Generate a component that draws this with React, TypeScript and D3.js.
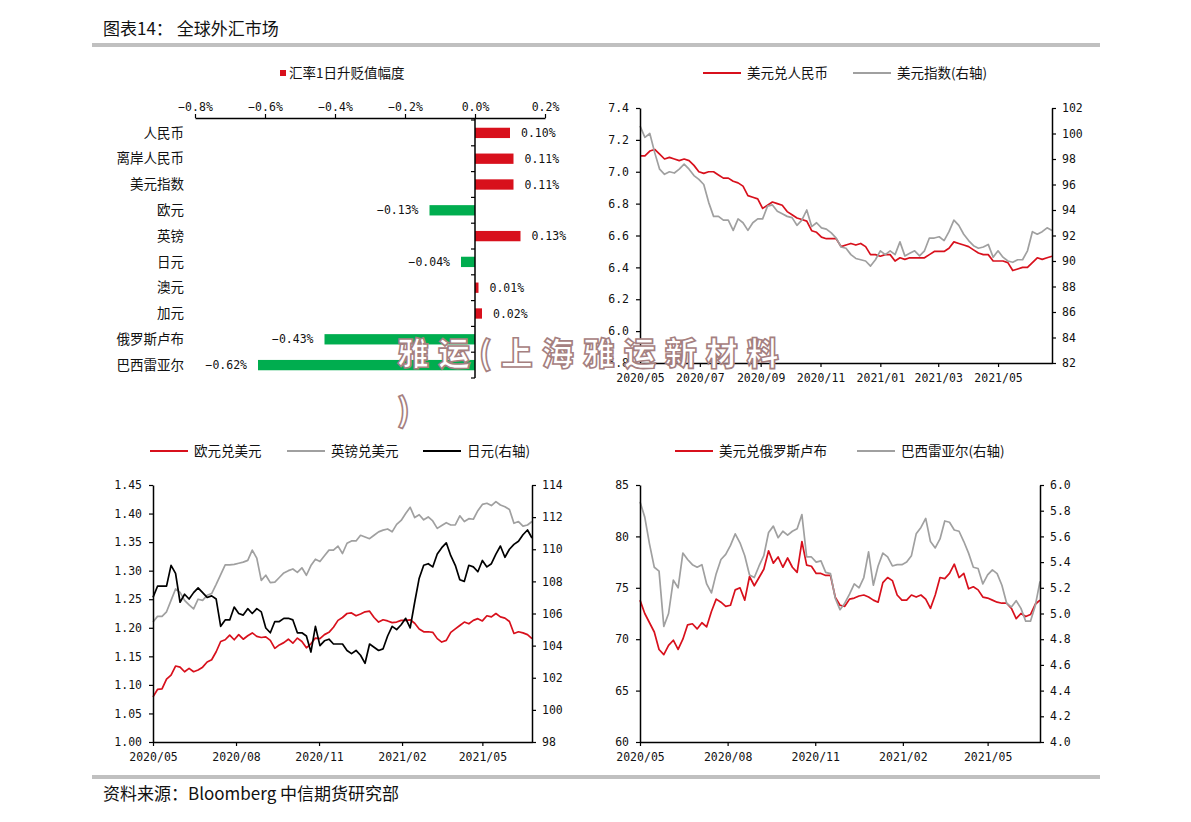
import * as d3 from "d3"
import { useLayoutEffect, useRef } from "react"

// ---- bar chart data ----
const barCategories = ["人民币", "离岸人民币", "美元指数", "欧元", "英镑", "日元", "澳元", "加元", "俄罗斯卢布", "巴西雷亚尔"]
const barValues = [0.10, 0.11, 0.11, -0.13, 0.13, -0.04, 0.01, 0.02, -0.43, -0.62]
const barTicks = [-0.8, -0.6, -0.4, -0.2, 0, 0.2]

// ---- time series (sampled every 5 days from 2020/05/01) ----
const startDate = new Date(2020, 4, 1)
const endDate = new Date(2021, 5, 25)
const dates = d3.range(85).map((i) => d3.timeDay.offset(startDate, i * 5))

const usdCny = [
  7.10, 7.10, 7.13, 7.14, 7.11, 7.08, 7.09, 7.08, 7.07, 7.08,
  7.07, 7.04, 7.00, 6.99, 7.00, 7.00, 6.98, 6.96, 6.96, 6.94,
  6.93, 6.91, 6.85, 6.84, 6.83, 6.77, 6.79, 6.81, 6.80, 6.79,
  6.75, 6.73, 6.71, 6.70, 6.69, 6.63, 6.62, 6.59, 6.58, 6.58,
  6.58, 6.53, 6.54, 6.55, 6.54, 6.55, 6.53, 6.48, 6.48, 6.47,
  6.48, 6.48, 6.44, 6.46, 6.45, 6.46, 6.46, 6.46, 6.46, 6.48,
  6.50, 6.50, 6.50, 6.52, 6.56, 6.55, 6.54, 6.53, 6.51, 6.49,
  6.48, 6.48, 6.44, 6.44, 6.44, 6.43, 6.38, 6.39, 6.40, 6.40,
  6.43, 6.46, 6.45, 6.46, 6.47,
]
const dxy = [
  100.6, 99.7, 100.0, 98.5, 97.2, 96.8, 97.0, 96.9, 97.2, 97.6,
  97.2, 96.7, 96.4, 96.0, 94.6, 93.5, 93.5, 93.2, 93.2, 92.4,
  93.3, 93.0, 92.4, 93.0, 93.3, 93.3, 94.3, 94.4, 93.9, 93.7,
  93.5, 93.4, 92.8, 93.2, 94.0, 92.7, 93.0, 92.6, 92.5, 92.2,
  91.8, 91.1, 91.0, 90.5, 90.2, 90.1, 90.0, 89.6, 90.1, 90.8,
  90.5, 90.8, 90.5, 91.5, 90.4, 90.6, 90.8, 90.4, 90.8, 91.8,
  91.8, 91.9, 91.6, 92.3, 93.2, 92.8, 92.1, 91.6, 91.2, 91.0,
  91.1, 91.3, 90.3, 90.8, 90.3, 90.0, 89.9, 90.1, 90.1, 90.8,
  92.3, 92.1, 92.3, 92.6, 92.4,
]
const eurUsd = [
  1.079, 1.092, 1.093, 1.110, 1.117, 1.133, 1.131, 1.123, 1.129, 1.123,
  1.126, 1.131, 1.140, 1.144, 1.158, 1.176, 1.179, 1.187, 1.179, 1.188,
  1.180, 1.186, 1.191, 1.185, 1.183, 1.184, 1.178, 1.164, 1.170, 1.174,
  1.180, 1.173, 1.182, 1.176, 1.165, 1.172, 1.182, 1.181, 1.188, 1.192,
  1.201, 1.213, 1.218, 1.225, 1.226, 1.221, 1.224, 1.228, 1.229, 1.218,
  1.210, 1.214, 1.212, 1.209, 1.210, 1.213, 1.213, 1.214, 1.208, 1.198,
  1.193, 1.193, 1.192, 1.181, 1.175, 1.178, 1.192, 1.198, 1.204, 1.210,
  1.207, 1.213, 1.216, 1.212, 1.221, 1.219, 1.225, 1.219, 1.217, 1.211,
  1.190, 1.193, 1.191, 1.188, 1.181,
]
const gbpUsd = [
  1.210, 1.220, 1.220, 1.228, 1.248, 1.268, 1.262, 1.248, 1.240, 1.233,
  1.250, 1.248, 1.257, 1.260, 1.276, 1.293, 1.310, 1.310, 1.311, 1.313,
  1.315, 1.318, 1.336, 1.322, 1.283, 1.292, 1.279, 1.280, 1.288, 1.296,
  1.300, 1.303, 1.297, 1.305, 1.292, 1.309, 1.320, 1.316, 1.326, 1.336,
  1.336, 1.343, 1.330, 1.348, 1.352, 1.352, 1.362, 1.359, 1.356, 1.362,
  1.368, 1.371, 1.373, 1.368, 1.381, 1.388, 1.400, 1.411, 1.393, 1.398,
  1.389, 1.394, 1.387, 1.374, 1.379, 1.384, 1.380, 1.380, 1.396, 1.386,
  1.391, 1.390, 1.405, 1.416, 1.418, 1.414, 1.421, 1.415, 1.412, 1.407,
  1.383, 1.386, 1.378, 1.380, 1.386,
]
const usdJpy = [
  107.0, 107.7, 107.7, 107.7, 109.0, 108.5, 106.7, 107.2, 106.9, 107.3,
  107.6, 107.3, 107.0, 107.1, 106.9, 105.2, 105.6, 105.6, 106.4, 106.0,
  105.9, 106.3, 106.0, 106.3, 106.1, 105.1, 104.8, 105.5, 105.5, 105.7,
  105.7, 105.6, 104.8, 104.8, 104.6, 103.6, 105.2, 104.0, 104.3, 104.4,
  104.1, 104.1, 104.1, 103.7, 103.5, 103.7, 103.4, 102.9, 104.1, 103.9,
  103.7, 103.8, 104.6, 105.2, 105.0, 105.3, 105.7, 105.1, 106.7, 108.2,
  109.0, 109.1, 108.9, 109.7, 110.1, 110.4, 109.6, 109.0, 108.1, 108.0,
  109.0, 108.9, 108.6, 109.3, 108.9, 109.1, 109.7, 110.2, 109.5, 110.0,
  110.3, 110.5, 110.9, 111.2, 110.7,
]
const usdRub = [
  73.8, 72.5, 71.6, 70.7, 69.0, 68.5, 69.4, 69.9, 69.0, 70.0,
  71.4, 71.5, 71.0, 71.6, 71.2, 72.7, 73.9, 73.6, 73.2, 73.3,
  74.8, 75.0, 73.8, 76.1, 75.2, 76.0, 76.8, 78.6, 77.4, 78.0,
  77.0, 77.9, 77.0, 76.5, 79.5, 77.2, 77.1, 76.4, 76.4, 76.2,
  76.2, 74.1, 73.3, 73.2, 73.9, 74.0, 74.2, 74.3, 74.1, 73.8,
  73.6, 75.5, 76.0, 75.7, 74.3, 73.8, 73.8, 74.3, 74.1, 74.3,
  73.9, 73.0, 74.3, 76.0, 75.9, 76.4, 77.3, 76.0, 76.4, 74.9,
  75.1, 74.8, 74.1, 74.0, 73.8, 73.6, 73.5, 73.5, 73.0, 72.0,
  72.5, 72.2, 72.4, 73.4, 73.8,
]
const brl = [
  5.87, 5.75, 5.54, 5.36, 5.33, 4.90, 5.00, 5.26, 5.20, 5.47,
  5.42, 5.38, 5.36, 5.38, 5.23, 5.16, 5.31, 5.42, 5.46, 5.53,
  5.62, 5.55, 5.45, 5.30, 5.28, 5.37, 5.45, 5.63, 5.68, 5.59,
  5.64, 5.61, 5.64, 5.66, 5.77, 5.44, 5.44, 5.40, 5.41, 5.32,
  5.31, 5.12, 5.03, 5.08, 5.15, 5.23, 5.20, 5.28, 5.48, 5.22,
  5.37, 5.47, 5.44, 5.37, 5.38, 5.38, 5.40, 5.45, 5.62, 5.67,
  5.74, 5.56, 5.51, 5.58, 5.72, 5.71, 5.65, 5.64, 5.56, 5.47,
  5.36, 5.35, 5.23, 5.30, 5.34, 5.31, 5.22, 5.08, 5.05, 5.10,
  5.04, 4.94, 4.94, 5.06, 5.25,
]

// ---- axis ticks ----
const cnyTicks = [5.8, 6.0, 6.2, 6.4, 6.6, 6.8, 7.0, 7.2, 7.4]
const dxyTicks = [82, 84, 86, 88, 90, 92, 94, 96, 98, 100, 102]
const eurTicks = [1.0, 1.05, 1.1, 1.15, 1.2, 1.25, 1.3, 1.35, 1.4, 1.45]
const jpyTicks = [98, 100, 102, 104, 106, 108, 110, 112, 114]
const rubTicks = [60, 65, 70, 75, 80, 85]
const brlTicks = [4.0, 4.2, 4.4, 4.6, 4.8, 5.0, 5.2, 5.4, 5.6, 5.8, 6.0]
const monthsEvery2 = ["2020/05", "2020/07", "2020/09", "2020/11", "2021/01", "2021/03", "2021/05"]
const monthsEvery3 = ["2020/05", "2020/08", "2020/11", "2021/02", "2021/05"]

const CN_FONT = "'Noto Sans CJK SC', 'Noto Sans', sans-serif"
const NUM_FONT = "'DejaVu Sans Mono', monospace"
const RED = "#d8101c"
const GREEN = "#00ad4f"
const GRAY = "#a0a0a0"
const BLACK = "#000"

const parseMonth = d3.timeParse("%Y/%m")
const fmtMonth = d3.timeFormat("%Y/%m")

type Sel = d3.Selection<SVGGElement, unknown, null, undefined>

function styleAxis(g: Sel) {
  g.select(".domain").attr("stroke", "#000").attr("stroke-width", 1.5)
  g.selectAll(".tick line").attr("stroke", "#000").attr("stroke-width", 1.2)
  g.selectAll(".tick text")
    .attr("fill", "#111")
    .style("font-family", NUM_FONT)
    .style("font-size", "11.5px")
}

interface LineCfg {
  left: number
  right: number
  top: number
  bottom: number
  leftDomain: [number, number]
  rightDomain: [number, number]
  leftTicks: number[]
  rightTicks: number[]
  leftFmt: (v: number) => string
  rightFmt: (v: number) => string
  months: string[]
  series: { values: number[]; axis: "left" | "right"; color: string }[]
  legend: { label: string; color: string; x: number }[]
  legendY: number
}

function drawLineChart(root: Sel, cfg: LineCfg) {
  const x = d3.scaleTime().domain([startDate, endDate]).range([cfg.left, cfg.right])
  const yL = d3.scaleLinear().domain(cfg.leftDomain).range([cfg.bottom, cfg.top])
  const yR = d3.scaleLinear().domain(cfg.rightDomain).range([cfg.bottom, cfg.top])
  const g = root.append("g")

  cfg.series.forEach((s) => {
    const y = s.axis === "left" ? yL : yR
    const line = d3
      .line<number>()
      .x((_, i) => x(dates[i]))
      .y((d) => y(d))
    g.append("path")
      .attr("d", line(s.values))
      .attr("fill", "none")
      .attr("stroke", s.color)
      .attr("stroke-width", 1.7)
      .attr("stroke-linejoin", "round")
  })

  const gl = g
    .append("g")
    .attr("transform", `translate(${cfg.left},0)`)
    .call(
      d3.axisLeft(yL).tickValues(cfg.leftTicks).tickSize(4).tickSizeOuter(0).tickPadding(7)
        .tickFormat((d) => cfg.leftFmt(d as number)),
    )
  styleAxis(gl)

  const gr = g
    .append("g")
    .attr("transform", `translate(${cfg.right},0)`)
    .call(
      d3.axisRight(yR).tickValues(cfg.rightTicks).tickSize(4).tickSizeOuter(0).tickPadding(6)
        .tickFormat((d) => cfg.rightFmt(d as number)),
    )
  styleAxis(gr)

  const gb = g
    .append("g")
    .attr("transform", `translate(0,${cfg.bottom})`)
    .call(
      d3.axisBottom(x)
        .tickValues(cfg.months.map((m) => parseMonth(m)!))
        .tickSize(4)
        .tickSizeOuter(0)
        .tickPadding(7)
        .tickFormat((d) => fmtMonth(d as Date)),
    )
  styleAxis(gb)

  cfg.legend.forEach((l) => {
    g.append("line")
      .attr("x1", l.x).attr("x2", l.x + 38)
      .attr("y1", cfg.legendY).attr("y2", cfg.legendY)
      .attr("stroke", l.color).attr("stroke-width", 2)
    g.append("text")
      .attr("x", l.x + 44).attr("y", cfg.legendY).attr("dy", "0.35em")
      .style("font-family", CN_FONT).style("font-size", "13.5px")
      .attr("fill", "#111")
      .text(l.label)
  })
}

function drawBarChart(root: Sel) {
  const g = root.append("g")
  const x = d3.scaleLinear().domain([-0.8, 0.2]).range([195, 545])
  const y = d3.scaleBand().domain(barCategories).range([120, 378]).paddingInner(0.6).paddingOuter(0.3)

  // legend
  g.append("rect").attr("x", 280).attr("y", 70).attr("width", 6).attr("height", 6).attr("fill", RED)
  g.append("text").attr("x", 289).attr("y", 73).attr("dy", "0.35em")
    .style("font-family", CN_FONT).style("font-size", "13.5px").attr("fill", "#111")
    .text("汇率1日升贬值幅度")

  g.selectAll(".bar")
    .data(barValues)
    .enter()
    .append("rect")
    .attr("x", (d) => x(Math.min(0, d)))
    .attr("y", (_, i) => y(barCategories[i])!)
    .attr("width", (d) => Math.abs(x(d) - x(0)))
    .attr("height", y.bandwidth())
    .attr("fill", (d) => (d >= 0 ? RED : GREEN))

  const pct = d3.format(".2f")
  g.selectAll(".val")
    .data(barValues)
    .enter()
    .append("text")
    .attr("x", (d) => (d >= 0 ? x(d) + 11 : x(d) - 11))
    .attr("y", (_, i) => y(barCategories[i])! + y.bandwidth() / 2)
    .attr("dy", "0.35em")
    .attr("text-anchor", (d) => (d >= 0 ? "start" : "end"))
    .style("font-family", NUM_FONT).style("font-size", "11.5px").attr("fill", "#111")
    .text((d) => pct(d) + "%")

  g.selectAll(".cat")
    .data(barCategories)
    .enter()
    .append("text")
    .attr("x", 184)
    .attr("y", (d) => y(d)! + y.bandwidth() / 2)
    .attr("dy", "0.35em")
    .attr("text-anchor", "end")
    .style("font-family", CN_FONT).style("font-size", "13.5px").attr("fill", "#111")
    .text((d) => d)

  const gt = g
    .append("g")
    .attr("transform", "translate(0,118)")
    .call(
      d3.axisTop(x).tickValues(barTicks).tickSize(4).tickSizeOuter(0).tickPadding(3)
        .tickFormat((d) => d3.format(".1f")(d as number) + "%"),
    )
  styleAxis(gt)

  // vertical axis at zero with ticks at band boundaries
  g.append("line").attr("x1", x(0)).attr("x2", x(0)).attr("y1", 118).attr("y2", 378)
    .attr("stroke", "#000").attr("stroke-width", 1.5)
  const step = y.step()
  d3.range(barCategories.length + 1).forEach((k) => {
    const yy = 120 + k * step
    g.append("line").attr("x1", x(0) - 4).attr("x2", x(0)).attr("y1", yy).attr("y2", yy)
      .attr("stroke", "#000").attr("stroke-width", 1.2)
  })
}

export default function App() {
  const ref = useRef<SVGSVGElement>(null)

  useLayoutEffect(() => {
    if (!ref.current) return
    const svg = d3.select(ref.current)
    svg.selectAll("*").remove()
    const root = svg.append("g") as unknown as Sel

    root.append("rect").attr("width", 1191).attr("height", 822).attr("fill", "#fff")

    // header & footer
    root.append("text").attr("x", 103).attr("y", 35)
      .style("font-family", CN_FONT).style("font-size", "17px").attr("fill", "#111")
      .text("图表14： 全球外汇市场")
    root.append("rect").attr("x", 92).attr("y", 43).attr("width", 1008).attr("height", 4).attr("fill", "#c0c0c0")
    root.append("rect").attr("x", 92).attr("y", 775).attr("width", 1008).attr("height", 4).attr("fill", "#c0c0c0")
    root.append("text").attr("x", 103).attr("y", 800)
      .style("font-family", CN_FONT).style("font-size", "17px").attr("fill", "#111")
      .text("资料来源：Bloomberg 中信期货研究部")

    drawBarChart(root)

    drawLineChart(root, {
      left: 640, right: 1052, top: 108, bottom: 363,
      leftDomain: [5.8, 7.4], rightDomain: [82, 102],
      leftTicks: cnyTicks, rightTicks: dxyTicks,
      leftFmt: d3.format(".1f"), rightFmt: d3.format("d"),
      months: monthsEvery2,
      series: [
        { values: usdCny, axis: "left", color: RED },
        { values: dxy, axis: "right", color: GRAY },
      ],
      legend: [
        { label: "美元兑人民币", color: RED, x: 703 },
        { label: "美元指数(右轴)", color: GRAY, x: 853 },
      ],
      legendY: 73,
    })

    drawLineChart(root, {
      left: 153, right: 532, top: 485, bottom: 742,
      leftDomain: [1.0, 1.45], rightDomain: [98, 114],
      leftTicks: eurTicks, rightTicks: jpyTicks,
      leftFmt: d3.format(".2f"), rightFmt: d3.format("d"),
      months: monthsEvery3,
      series: [
        { values: eurUsd, axis: "left", color: RED },
        { values: gbpUsd, axis: "left", color: GRAY },
        { values: usdJpy, axis: "right", color: BLACK },
      ],
      legend: [
        { label: "欧元兑美元", color: RED, x: 150 },
        { label: "英镑兑美元", color: GRAY, x: 287 },
        { label: "日元(右轴)", color: BLACK, x: 423 },
      ],
      legendY: 451,
    })

    drawLineChart(root, {
      left: 640, right: 1040, top: 485, bottom: 742,
      leftDomain: [60, 85], rightDomain: [4.0, 6.0],
      leftTicks: rubTicks, rightTicks: brlTicks,
      leftFmt: d3.format("d"), rightFmt: d3.format(".1f"),
      months: monthsEvery3,
      series: [
        { values: usdRub, axis: "left", color: RED },
        { values: brl, axis: "right", color: GRAY },
      ],
      legend: [
        { label: "美元兑俄罗斯卢布", color: RED, x: 675 },
        { label: "巴西雷亚尔(右轴)", color: GRAY, x: 857 },
      ],
      legendY: 451,
    })

    // watermark overlay
    const wm = root.append("g")
      .style("font-family", CN_FONT).style("font-size", "32px").style("font-weight", "900")
      .attr("fill", "#fff").attr("stroke", "#a58080").attr("stroke-width", 1.6)
    wm.append("text").attr("x", 397).attr("y", 365).style("letter-spacing", "9px").text("雅运(上海雅运新材料")
    wm.append("text").attr("x", 397).attr("y", 422).text(")")
  }, [])

  return (
    <svg
      ref={ref}
      width={1191}
      height={822}
      style={{ position: "absolute", left: 0, top: 0, background: "#fff" }}
    />
  )
}
